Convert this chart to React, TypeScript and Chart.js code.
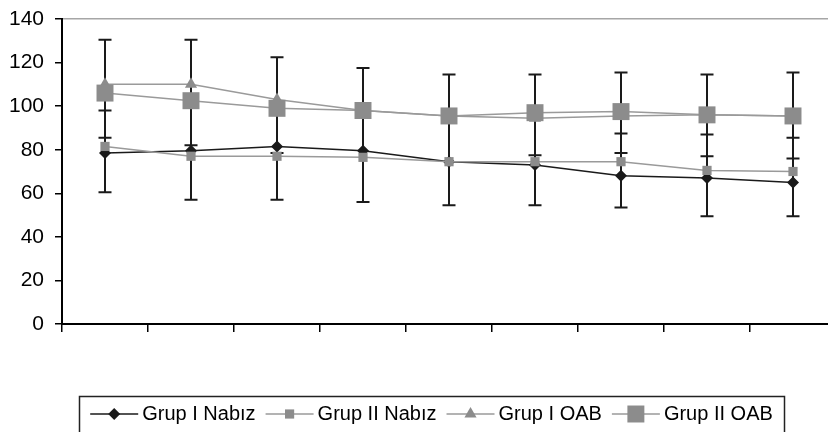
import React, { useEffect, useRef } from 'react';
import { Chart, registerables } from 'chart.js';

Chart.register(...registerables);

// ---- data ----
const categories = ['1', '2', '3', '4', '5', '6', '7', '8', '9'];
const seriesLabels = ['Grup I Nabız', 'Grup II Nabız', 'Grup I OAB', 'Grup II OAB'];
const grupINabiz = [78.5, 79.5, 81.5, 79.5, 74.5, 73, 68, 67, 65];
const grupIINabiz = [81.5, 77, 77, 76.5, 74.5, 74.5, 74.5, 70.5, 70];
const grupIOAB = [110, 110, 103, 98, 95.5, 94.5, 95.5, 96, 95.5];
const grupIIOAB = [106, 102.5, 99, 98, 95.5, 97, 97.5, 96, 95.5];
const errorTop = [130.5, 130.5, 122.5, 117.5, 114.5, 114.5, 115.5, 114.5, 115.5];
const errorBottom = [60.5, 57, 57, 56, 54.5, 54.5, 53.5, 49.5, 49.5];
const errorInner = [[98, 85.5], [82], [78.5], [], [], [77.5], [87.5, 78.5], [87, 77], [85.5, 76]];
const yMin = 0;
const yMax = 140;
const yStep = 20;

const FONT = '"Liberation Sans", Arial, sans-serif';
const BLACK = '#1a1a1a';
const GRAY_LINE = '#9a9a9a';
const GRAY_MARK = '#8c8c8c';

function drawMarker(ctx: CanvasRenderingContext2D, style: string, x: number, y: number, r: number) {
  ctx.beginPath();
  if (style === 'rectRot') {
    ctx.moveTo(x - r, y);
    ctx.lineTo(x, y - r);
    ctx.lineTo(x + r, y);
    ctx.lineTo(x, y + r);
    ctx.closePath();
  } else if (style === 'rect') {
    const s = r * Math.SQRT1_2;
    ctx.rect(x - s, y - s, 2 * s, 2 * s);
  } else if (style === 'triangle') {
    ctx.moveTo(x, y - r);
    ctx.lineTo(x + 0.866 * r, y + 0.5 * r);
    ctx.lineTo(x - 0.866 * r, y + 0.5 * r);
    ctx.closePath();
  }
  ctx.fill();
}

const errorBarPlugin = {
  id: 'errorBars',
  beforeDatasetsDraw(chart: any) {
    const { ctx, scales } = chart;
    const xs = scales.x;
    const ys = scales.y;
    ctx.save();
    ctx.strokeStyle = BLACK;
    ctx.lineWidth = 2;
    categories.forEach((_c, i) => {
      const px = xs.getPixelForValue(i);
      ctx.beginPath();
      ctx.moveTo(px, ys.getPixelForValue(errorTop[i]));
      ctx.lineTo(px, ys.getPixelForValue(errorBottom[i]));
      const caps = [errorTop[i], errorBottom[i], ...errorInner[i]];
      caps.forEach((v) => {
        const py = ys.getPixelForValue(v);
        ctx.moveTo(px - 6.5, py);
        ctx.lineTo(px + 6.5, py);
      });
      ctx.stroke();
    });
    ctx.restore();
  },
};

const boxLegendPlugin = {
  id: 'boxLegend',
  afterDraw(chart: any) {
    const { ctx } = chart;
    const datasets = chart.data.datasets;
    ctx.save();
    // legend frame
    ctx.strokeStyle = '#222';
    ctx.lineWidth = 1.5;
    ctx.strokeRect(79.5, 396.5, 705, 60);
    ctx.font = '20px ' + FONT;
    const symW = 48;
    const gapText = 4;
    const gapItem = 10;
    const widths = datasets.map((d: any) => ctx.measureText(d.label).width);
    const total = datasets.length * (symW + gapText) + widths.reduce((a: number, b: number) => a + b, 0) + gapItem * (datasets.length - 1);
    let x = 431.5 - total / 2;
    const symY = 414;
    datasets.forEach((d: any, i: number) => {
      ctx.strokeStyle = d.borderColor;
      ctx.lineWidth = 1.5;
      ctx.beginPath();
      ctx.moveTo(x, symY);
      ctx.lineTo(x + symW, symY);
      ctx.stroke();
      ctx.fillStyle = d.pointBackgroundColor;
      drawMarker(ctx, d.pointStyle, x + symW / 2, symY, d.pointRadius);
      ctx.fillStyle = '#000';
      ctx.textBaseline = 'alphabetic';
      ctx.textAlign = 'left';
      ctx.fillText(d.label, x + symW + gapText, 420);
      x += symW + gapText + widths[i] + gapItem;
    });
    ctx.restore();
  },
};

export default function App() {
  const ref = useRef<HTMLCanvasElement>(null);
  useEffect(() => {
    document.body.style.margin = '0';
    document.body.style.overflow = 'hidden';
    const canvas = ref.current!;
    const mk = (label: string, data: number[], line: string, mark: string, style: string, r: number, order: number) => ({
      label,
      data,
      borderColor: line,
      backgroundColor: mark,
      pointBackgroundColor: mark,
      pointBorderColor: mark,
      pointBorderWidth: 0,
      pointStyle: style,
      pointRadius: r,
      borderWidth: 1.5,
      tension: 0,
      order,
      clip: false as any,
    });
    const chart = new Chart(canvas, {
      type: 'line',
      data: {
        labels: categories,
        datasets: [
          mk(seriesLabels[0], grupINabiz, BLACK, BLACK, 'rectRot', 6, 4),
          mk(seriesLabels[1], grupIINabiz, GRAY_LINE, GRAY_MARK, 'rect', 6.5, 3),
          mk(seriesLabels[2], grupIOAB, GRAY_LINE, GRAY_MARK, 'triangle', 7, 2),
          mk(seriesLabels[3], grupIIOAB, GRAY_LINE, GRAY_MARK, 'rect', 12, 1),
        ] as any,
      },
      options: {
        responsive: false,
        animation: false,
        devicePixelRatio: 1,
        events: [],
        layout: { autoPadding: false, padding: { top: 19, right: 4, bottom: 100, left: 0 } },
        plugins: { legend: { display: false }, tooltip: { enabled: false } },
        scales: {
          x: {
            type: 'category',
            offset: true,
            grid: {
              offset: true,
              drawOnChartArea: false,
              drawTicks: true,
              tickLength: 8,
              color: '#000',
              lineWidth: 1.5,
            },
            border: { display: true, color: '#000', width: 2 },
            ticks: { display: false },
            afterFit: (s: any) => {
              s.height = 8;
              s.paddingLeft = 0;
              s.paddingRight = 0;
            },
          },
          y: {
            min: yMin,
            max: yMax,
            ticks: {
              stepSize: yStep,
              color: '#000',
              padding: 11,
              font: { family: FONT, size: 21 },
            },
            grid: {
              color: (c: any) => (c.tick && c.tick.value === yMax ? '#a6a6a6' : 'rgba(0,0,0,0)'),
              tickColor: '#000',
              tickLength: 7,
              tickWidth: 1.5,
              lineWidth: 1.5,
            },
            border: { display: true, color: '#000', width: 2 },
            afterFit: (s: any) => {
              s.width = 62;
              s.paddingTop = 0;
              s.paddingBottom = 0;
            },
          },
        },
      } as any,
      plugins: [errorBarPlugin, boxLegendPlugin],
    });
    return () => chart.destroy();
  }, []);
  return (
    <div style={{ width: 828, height: 432, overflow: 'hidden', background: '#fff' }}>
      <canvas ref={ref} width={840} height={432} style={{ display: 'block' }} />
    </div>
  );
}
